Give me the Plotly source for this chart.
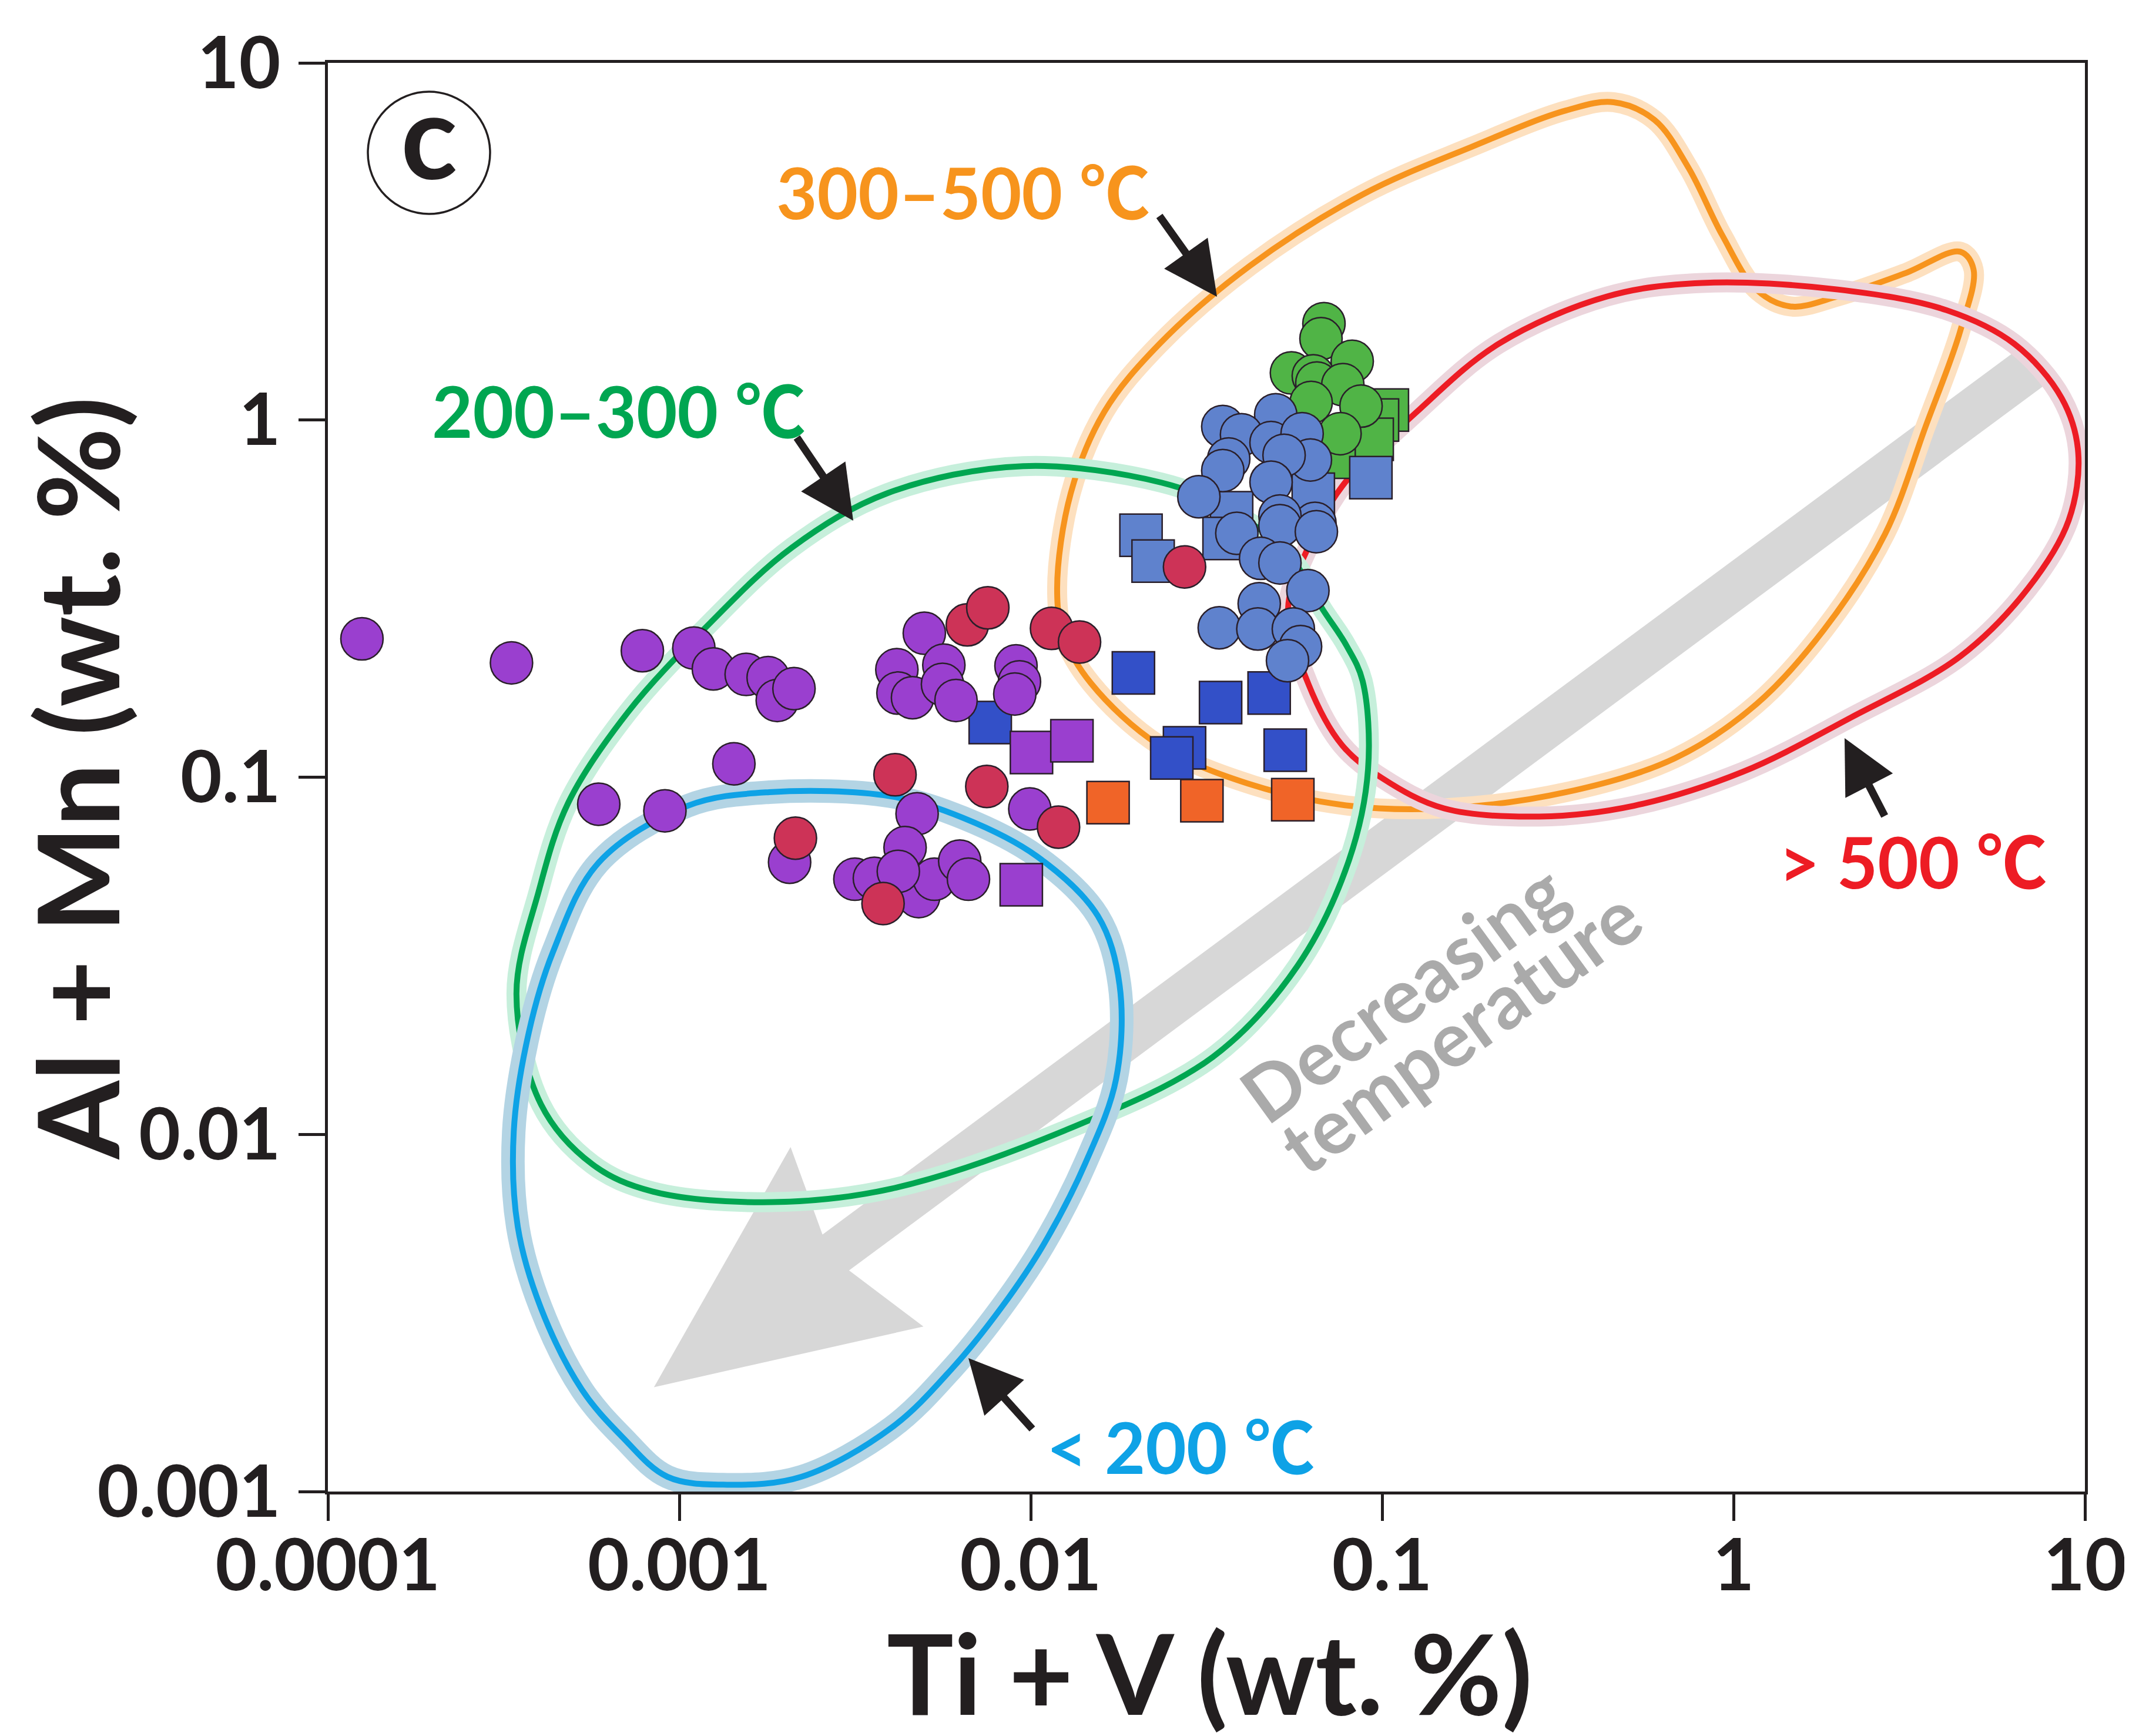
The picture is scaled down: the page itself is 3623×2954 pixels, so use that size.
import numpy as np
import plotly.graph_objects as go

# ---------------- data (Ti+V, Al+Mn in wt.%) ----------------
purple_circle_x = [0.000125, 0.000333, 0.000785, 0.00110, 0.00125, 0.00155, 0.00179, 0.00190,
                   0.00212, 0.00143, 0.00059, 0.00091, 0.00206, 0.00498, 0.00416, 0.00419,
                   0.00461, 0.00566, 0.00561, 0.00613, 0.00908, 0.00929, 0.00901, 0.00994,
                   0.00475, 0.00439, 0.00316, 0.00359, 0.0048, 0.00532, 0.00628, 0.00665, 0.0042]
purple_circle_y = [0.244, 0.209, 0.226, 0.230, 0.201, 0.194, 0.190, 0.164,
                   0.177, 0.109, 0.084, 0.0805, 0.0578, 0.253, 0.200, 0.172,
                   0.167, 0.206, 0.182, 0.164, 0.205, 0.185, 0.171, 0.0815,
                   0.079, 0.0635, 0.0518, 0.0521, 0.0463, 0.0518, 0.0582, 0.0518, 0.0545]

red_circle_x = [0.00214, 0.00660, 0.00755, 0.01146, 0.01377, 0.00411, 0.0075, 0.0120, 0.0038, 0.0274]
red_circle_y = [0.0675, 0.267, 0.298, 0.261, 0.239, 0.1016, 0.0942, 0.0725, 0.0443, 0.388]

lightblue_circle_x = [0.0498, 0.0352, 0.0398, 0.0483, 0.0366, 0.0592, 0.0625, 0.0526, 0.0352,
                      0.0483, 0.0301, 0.0644, 0.0512, 0.0386, 0.0512, 0.065, 0.0451, 0.0512,
                      0.0615, 0.0447, 0.0344, 0.0443, 0.0559, 0.0586, 0.0538]
lightblue_circle_y = [1.035, 0.959, 0.910, 0.865, 0.778, 0.916, 0.773, 0.797, 0.722,
                      0.670, 0.610, 0.514, 0.539, 0.482, 0.506, 0.487, 0.410, 0.398,
                      0.333, 0.306, 0.262, 0.260, 0.260, 0.232, 0.212]

green_circle_x = [0.0683, 0.067, 0.0822, 0.0552, 0.0637, 0.0652, 0.0773, 0.0628, 0.0871, 0.0759]
green_circle_y = [1.862, 1.69, 1.46, 1.355, 1.33, 1.27, 1.256, 1.12, 1.094, 0.916]

green_square_x = [0.1035, 0.097, 0.0937, 0.073]
green_square_y = [1.067, 1.00, 0.883, 0.787]

lightblue_square_x = [0.0206, 0.0223, 0.0373, 0.0355, 0.0637, 0.0929]
lightblue_square_y = [0.476, 0.403, 0.550, 0.466, 0.620, 0.690]

darkblue_square_x = [0.00767, 0.0196, 0.0347, 0.0477, 0.0274, 0.0252, 0.0530]
darkblue_square_y = [0.1422, 0.196, 0.1618, 0.172, 0.1208, 0.1132, 0.119]

orange_square_x = [0.0166, 0.0307, 0.0557]
orange_square_y = [0.0849, 0.0859, 0.0865]

purple_square_x = [0.01005, 0.0131, 0.0094]
purple_square_y = [0.1172, 0.1265, 0.050]

# ---------------- temperature fields (outline vertices) ----------------
field_300_500_x = [0.01189, 0.0130, 0.0162, 0.0232, 0.0420, 0.0880, 0.179, 0.334, 0.456, 0.596,
                   0.744, 0.929, 1.161, 1.452, 1.98, 3.09, 4.42, 4.82, 4.42, 3.53, 2.70, 1.81,
                   1.16, 0.681, 0.334, 0.150, 0.0805, 0.0432, 0.0232, 0.01486, 0.01242, 0.01189]
field_300_500_y = [0.338, 0.624, 1.055, 1.63, 2.70, 4.28, 5.81, 7.36, 7.76, 6.92,
                   5.09, 3.29, 2.32, 2.08, 2.22, 2.58, 2.96, 2.64, 1.78, 0.966, 0.480, 0.259,
                   0.160, 0.113, 0.0908, 0.0818, 0.0832, 0.0948, 0.123, 0.183, 0.248, 0.338]

field_gt500_x = [0.1256, 0.2143, 0.4365, 0.8128, 1.98, 4.04, 6.30, 8.59, 9.57, 8.99, 6.89, 4.42,
                 2.16, 1.062, 0.521, 0.280, 0.150, 0.1005, 0.0769, 0.0616, 0.0540, 0.0616,
                 0.0769, 0.1256]
field_gt500_y = [1.055, 1.633, 2.218, 2.42, 2.32, 2.03, 1.633, 1.151, 0.811, 0.524, 0.338, 0.218,
                 0.147, 0.1035, 0.0832, 0.0776, 0.0818, 0.0991, 0.123, 0.183, 0.296, 0.440,
                 0.652, 1.055]

field_200_300_x = [0.00951, 0.02356, 0.0361, 0.0540, 0.0679, 0.0791, 0.0880, 0.0912, 0.0805,
                   0.0574, 0.0330, 0.01230, 0.00402, 0.001837, 0.000838, 0.000566, 0.000404,
                   0.000344, 0.000397, 0.000483, 0.000714, 0.001186, 0.002094, 0.00391, 0.00951]
field_200_300_y = [0.743, 0.668, 0.566, 0.421, 0.294, 0.234, 0.186, 0.1054, 0.0586,
                   0.0296, 0.01648, 0.01019, 0.00705, 0.00646, 0.00692, 0.00824, 0.01213,
                   0.0247, 0.0475, 0.0848, 0.152, 0.262, 0.440, 0.624, 0.743]

field_lt200_x = [0.001803, 0.00398, 0.00643, 0.01040, 0.01552, 0.01790, 0.01750, 0.01430,
                 0.01090, 0.00830, 0.00600, 0.00402, 0.00223, 0.001368, 0.000925, 0.000689,
                 0.000528, 0.000404, 0.000347, 0.000338, 0.000373, 0.000437, 0.000588,
                 0.001057, 0.001803]
field_lt200_y = [0.0908, 0.0885, 0.0769, 0.0601, 0.0409, 0.0262, 0.0143, 0.00830,
                 0.00493, 0.00330, 0.00222, 0.00151, 0.00110, 0.001045, 0.00110, 0.00142,
                 0.00193, 0.00326, 0.00551, 0.01019, 0.01928, 0.0324, 0.0575,
                 0.0832, 0.0908]

x_tick_vals = [0.0001, 0.001, 0.01, 0.1, 1, 10]
x_tick_text = ["0.0001", "0.001", "0.01", "0.1", "1", "10"]
y_tick_vals = [0.001, 0.01, 0.1, 1, 10]
y_tick_text = ["0.001", "0.01", "0.1", "1", "10"]
x_title = "Ti + V (wt. %)"
y_title = "Al + Mn (wt. %)"

# grey "decreasing temperature" arrow (data coordinates of tail and tip)
trend_tail = (7.2, 1.43)
trend_tip = (0.000847, 0.00196)

# ---------------- layout geometry ----------------
FIG_W, FIG_H = 3623, 2954
M_L, M_R, M_T, M_B = 550, 83, 99, 424
PW, PH = FIG_W - M_L - M_R, FIG_H - M_T - M_B
XR, YR = (-4, 1), (-3, 1)
DX = PW / (XR[1] - XR[0])
DY = PH / (YR[1] - YR[0])

FONT = "Lato, 'Noto Sans CJK SC', 'DejaVu Sans', sans-serif"
INK = "#231f20"


def P(X, Y):
    """reference pixel position -> paper coordinates"""
    return (X - M_L) / PW, 1 - (Y - M_T) / PH


def to_px(x, y):
    return (np.log10(x) - XR[0]) * DX, (YR[1] - np.log10(y)) * DY


def to_data(px, py):
    return 10 ** (px / DX + XR[0]), 10 ** (YR[1] - py / DY)


fig = go.Figure()

# temperature fields: halo + line
fields = [
    (field_300_500_x, field_300_500_y, "#f7941d", "#fde0bf", 34),
    (field_gt500_x, field_gt500_y, "#ed1c24", "#ecd5dc", 34),
    (field_200_300_x, field_200_300_y, "#00a651", "#c6efdb", 34),
    (field_lt200_x, field_lt200_y, "#0ea2e6", "#b3d4e4", 40),
]
for fx, fy, col, halo, hw in fields:
    fig.add_trace(go.Scatter(x=fx, y=fy, mode="lines",
                             line=dict(color=halo, width=hw, shape="spline", smoothing=1.0),
                             hoverinfo="skip", showlegend=False))
    fig.add_trace(go.Scatter(x=fx, y=fy, mode="lines",
                             line=dict(color=col, width=10, shape="spline", smoothing=1.0),
                             hoverinfo="skip", showlegend=False))

MK_LINE = dict(color="#2a1f2a", width=2.5)
SIZE = 72
series = [
    (darkblue_square_x, darkblue_square_y, "square", "#3350c8"),
    (orange_square_x, orange_square_y, "square", "#f06428"),
    (purple_square_x, purple_square_y, "square", "#9a3fcf"),
    (green_square_x, green_square_y, "square", "#50b446"),
    (lightblue_square_x, lightblue_square_y, "square", "#5f82cd"),
    (purple_circle_x, purple_circle_y, "circle", "#9a3fcf"),
    (red_circle_x, red_circle_y, "circle", "#cd3357"),
    (green_circle_x, green_circle_y, "circle", "#50b446"),
    (lightblue_circle_x, lightblue_circle_y, "circle", "#5f82cd"),
]
for sx, sy, sym, col in series:
    fig.add_trace(go.Scatter(x=sx, y=sy, mode="markers",
                             marker=dict(symbol=sym, size=SIZE, color=col, line=MK_LINE),
                             cliponaxis=False, hoverinfo="skip", showlegend=False))

# grey trend arrow as a shape below the traces
tx, ty = to_px(*trend_tail)
hx, hy = to_px(*trend_tip)
L = np.hypot(tx - hx, ty - hy)
ux, uy = (tx - hx) / L, (ty - hy) / L      # along (tip -> tail)
vx, vy = -uy, ux                           # perpendicular
shaft_half, head_len, wing_back, wing_half = 38, 385, 430, 190
outline = [(0, 0), (wing_back, -wing_half), (head_len, -shaft_half), (L, -shaft_half),
           (L, shaft_half), (head_len, shaft_half), (wing_back, wing_half)]
pts = []
for a, b in outline:
    px = hx + a * ux + b * vx
    py = hy + a * uy + b * vy
    pts.append(to_data(px, py))
path = "M " + " L ".join(f"{x:.6g},{y:.6g}" for x, y in pts) + " Z"
shapes = [dict(type="path", path=path, xref="x", yref="y", layer="below",
               fillcolor="#d7d7d7", line=dict(width=0))]

# circled panel letter
cx0, cy0 = P(722 - 104, 252 - 104)
cx1, cy1 = P(722 + 104, 252 + 104)
shapes.append(dict(type="circle", xref="paper", yref="paper", x0=cx0, x1=cx1, y0=cy0, y1=cy1,
                   line=dict(color=INK, width=3.5), layer="above"))

annotations = []


def label(text, X, Y, color, size, angle=0, xanchor="center", yanchor="middle"):
    x, y = P(X, Y)
    annotations.append(dict(text=text, x=x, y=y, xref="paper", yref="paper", showarrow=False,
                            textangle=angle, xanchor=xanchor, yanchor=yanchor, borderpad=0,
                            font=dict(family=FONT, size=size, color=color, weight="bold")))


label("c", 722, 220, INK, 200)
label("300–500 ℃", 1631, 319, "#f7941d", 120)
label("200–300 ℃", 1045, 691, "#00a651", 120)
label("> 500 ℃", 3247, 1458, "#ed1c24", 120)
label("< 200 ℃", 2001, 2454, "#0ea2e6", 120)
label("Decreasing", 2379, 1680, "#aaaaaa", 130, -36)
label("temperature", 2476, 1745, "#aaaaaa", 130, -36)

# axis titles (placed as annotations to sit close to the canvas edge like the reference)
label(x_title, 2050, 2951, INK, 190, yanchor="bottom")
label(y_title, 3, 1317, INK, 192, angle=-90, xanchor="left")


def arrow(tip, tail):
    x, y = P(*tip)
    annotations.append(dict(text="", x=x, y=y, xref="paper", yref="paper", showarrow=True,
                            ax=tail[0] - tip[0], ay=tail[1] - tip[1],
                            arrowhead=2, arrowsize=1.4, arrowwidth=13, arrowcolor=INK))


arrow((2063, 497), (1964, 358))
arrow((1444, 878), (1347, 735))
arrow((3131, 1248), (3200, 1382))
arrow((1640, 2303), (1750, 2425))

axis_common = dict(type="log", showgrid=False, zeroline=False, showline=True, mirror=True,
                   linecolor=INK, linewidth=5, ticks="outside", ticklen=45, tickwidth=5,
                   tickcolor=INK, automargin=False,
                   tickfont=dict(family=FONT, size=122, color=INK, weight="bold"))

fig.update_xaxes(**axis_common, range=list(XR), tickvals=x_tick_vals, ticktext=x_tick_text,
                 ticklabelstandoff=-28)
fig.update_yaxes(**axis_common, range=list(YR), tickvals=y_tick_vals, ticktext=y_tick_text,
                 ticklabelstandoff=6)

fig.update_layout(width=FIG_W, height=FIG_H,
                  margin=dict(l=M_L, r=M_R, t=M_T, b=M_B, pad=0),
                  paper_bgcolor="white", plot_bgcolor="white",
                  shapes=shapes, annotations=annotations, showlegend=False)

fig.write_html("out.html")
